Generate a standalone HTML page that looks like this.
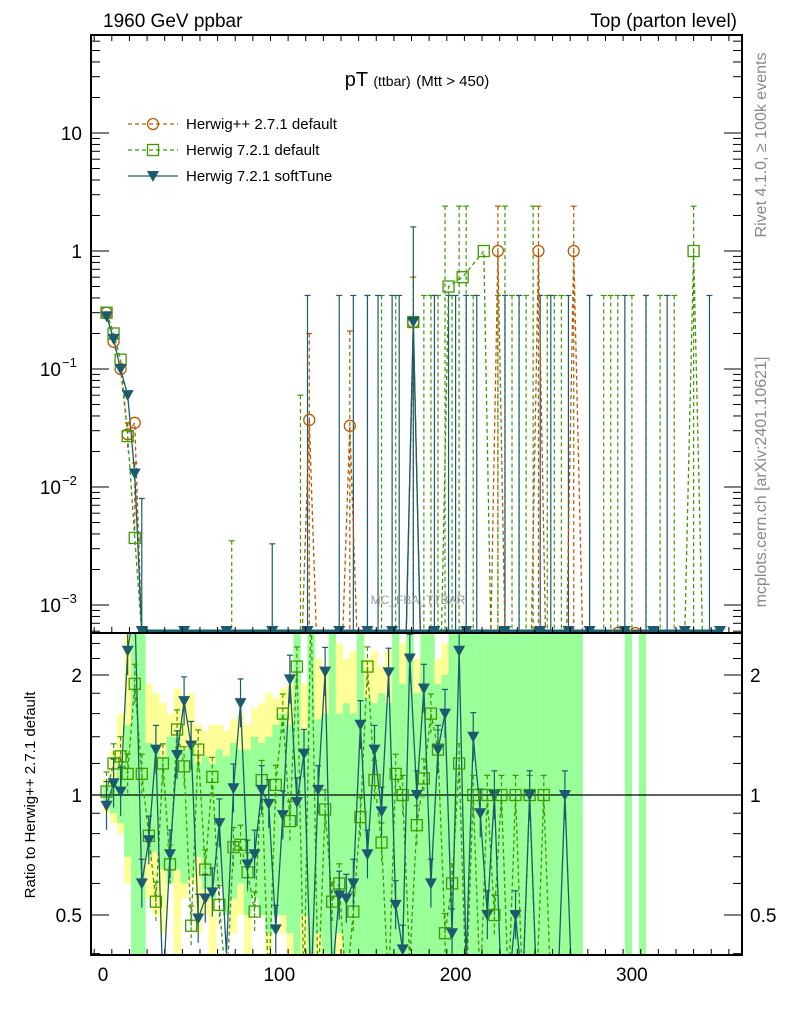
<!DOCTYPE html>
<html><head><meta charset="utf-8"><style>
body{margin:0;background:#fff}
svg{display:block;font-family:"Liberation Sans",sans-serif}
</style></head><body>
<svg id="c" width="786" height="1024" viewBox="0 0 786 1024" xmlns="http://www.w3.org/2000/svg">
<defs>
<clipPath id="cm"><rect x="91" y="35" width="651" height="598"/></clipPath>
<clipPath id="cr"><rect x="91" y="633" width="651" height="322"/></clipPath>
</defs>
<g id="ratioBands" clip-path="url(#cr)"></g>
<g id="mainG" clip-path="url(#cm)"></g>
<g id="ratioG" clip-path="url(#cr)"></g>
<g id="axes"></g>
<text x="103" y="27" font-size="19">1960 GeV ppbar</text>
<text x="737" y="27" font-size="19" text-anchor="end">Top (parton level)</text>
<text x="417" y="86" font-size="20" text-anchor="middle">pT <tspan font-size="14">(ttbar)</tspan> <tspan font-size="15">(Mtt &gt; 450)</tspan></text>
<text x="418" y="604" font-size="12" fill="#999" text-anchor="middle">MC_FBA_TTBAR</text>
<text transform="translate(766,145) rotate(-90)" font-size="16" fill="#888" text-anchor="middle">Rivet 4.1.0, ≥ 100k events</text>
<text transform="translate(766,482) rotate(-90)" font-size="16" fill="#888" text-anchor="middle">mcplots.cern.ch [arXiv:2401.10621]</text>
<text transform="translate(35,795) rotate(-90)" font-size="15" text-anchor="middle">Ratio to Herwig++ 2.7.1 default</text>
<g>
<g>
<line x1="128" y1="124" x2="178" y2="124" stroke="#b85a00" stroke-dasharray="4,3" stroke-width="1.3"/>
<circle cx="153" cy="124" r="5.5" fill="none" stroke="#b85a00" stroke-width="1.3"/>
<text x="186" y="129" font-size="15">Herwig++ 2.7.1 default</text></g>
<g>
<line x1="128" y1="150" x2="178" y2="150" stroke="#3c9a00" stroke-dasharray="4,3" stroke-width="1.3"/>
<rect x="147.5" y="144.5" width="11" height="11" fill="none" stroke="#3c9a00" stroke-width="1.3"/>
<text x="186" y="155" font-size="15">Herwig 7.2.1 default</text></g>
<g>
<line x1="128" y1="176" x2="178" y2="176" stroke="#1c5a70" stroke-width="1.3"/>
<path d="M147,171 L159,171 L153,182 Z" fill="#1c5a70"/>
<text x="186" y="181" font-size="15">Herwig 7.2.1 softTune</text></g>
</g>
</svg>
<script>
// ---- main panel data ----
const oX=[2,6,10,14,18,22,113,117,121,136,140,144,172,176,180,220,224,228,243,247,251,263,267,272,302];
const oY=[0.3,0.17,0.1,0.028,0.035,0,0,0.037,0,0,0.033,0,0,0.25,0,0,1,0,0,1,0,0,1,0,0];
const oErrX=[14,18,117,140,176,224,247,267];
const oErrHi=[0.035,0.016,0.2,0.21,0.6,2.4,2.4,2.4];
const oErrLo=[0.02,0.004,0,0,0,0,0,0];
const gX=[2,6,10,14,18,22,172,176,180,192,196,204,216,220,330,335,340];
const gY=[0.3,0.2,0.12,0.027,0.0037,0,0,0.25,0,0,0.5,0.6,1,0,0,1,0];
const gErrX=[73,112,150,158,166,182,186,190,194,198,202,206,210,224,228,232,236,240,244,252,256,260,276,284,288,292,300,308,316,324,335];
const gErrHi=[0.0035,0.06,0.42,0.42,0.42,0.42,0.42,0.42,2.4,0.42,2.4,2.4,0.42,0.42,2.4,0.42,0.42,0.42,2.4,0.42,0.42,0.42,0.42,0.42,0.42,0.42,0.42,0.42,0.42,0.42,2.4];
const bX=[2,6,10,14,18,22,172,176,180,350];
const bY=[0.28,0.18,0.1,0.06,0.013,0,0,0.25,0,0];
const bErrX=[22,96,116,134,142,150,156,164,168,176,188,196,200,206,212,228,236,248,254,264,276,296,308,320,344];
const bErrHi=[0.008,0.0033,0.42,0.42,0.42,0.42,0.42,0.42,0.42,1.6,0.42,0.42,0.42,0.42,0.42,0.42,0.42,0.42,0.42,0.42,0.42,0.42,0.42,0.42,0.42];
const bZeroX=[22,46,70,96,116,134,150,164,188,206,228,248,264,276,296,312,330,350];
// ---- ratio panel data (bins centred 2,6,...,270) ----
const rBins=[];for(let i=0;i<68;i++)rBins.push(2+4*i);
const gR=[1.02,1.2,1.25,1.13,1.9,1.13,0.79,0.54,1.2,0.67,1.46,1.18,0.47,1.3,0.65,1.11,0.53,0.3,0.74,0.75,0.64,0.51,1.09,0.3,1.06,1.6,0.86,2.1,0.3,3,0.3,0.92,0.54,0.6,0.3,0.51,0.88,2.1,1.09,0.76,0.3,1.13,1.0,0.38,0.84,1.1,1.6,1.3,0.45,0.6,1.2,0.3,1.0,0.3,1.0,0.5,1.0,0.3,1.0,0.3,1.0,0.3,1.0,0.3,0.3,0.3,0.3,0.3];
const bR=[0.94,1.07,1.02,2.3,3,0.6,0.77,1.3,0.3,0.71,1.26,1.72,1.33,0.49,0.55,0.57,0.85,0.4,1.04,1.7,0.67,0.71,1.03,0.95,0.46,0.89,1.95,0.96,1.27,0.3,1.03,2.04,0.35,0.56,0.55,0.6,1.5,0.71,1.3,0.91,2.03,0.53,0.41,2.2,1.0,1.85,0.6,1.3,1.6,0.45,2.3,0.38,1.4,0.9,0.5,1.0,0.3,0.3,0.5,0.3,1.0,0.3,0.3,0.3,0.3,1.0,0.3,0.3];
const yHi=[1.1,1.3,1.6,3,3,3,1.9,1.8,1.7,1.6,1.85,1.7,1.8,1.5,1.45,1.5,1.5,1.45,1.55,1.6,1.5,1.65,1.7,1.8,1.75,1.85,1.9,2,1.9,2.3,2.2,2.1,3,2.4,2.2,2.3,3,2.2,2.3,2.1,2.3,2.2,2.4,3,2.2,2.3,3,2.2,2.4,3,3,2.4,3,2.3,2.4,3,2.2,3,2.3,3,3,3,3,3,3,3,3,3];
const yLo=[0.9,0.85,0.8,0.6,0.5,0.6,0.55,0.5,0.45,0.6,0.3,0.55,0.6,0.45,0.5,0.3,0.6,0.55,0.45,0.5,0.3,0.6,0.5,0.3,0.55,0.45,0.3,0.5,0.3,0.4,0.3,0.5,0.3,0.3,0.45,0.3,0.3,0.4,0.3,0.3,0.3,0.3,0.3,0.3,0.3,0.3,0.3,0.3,0.3,0.3,0.3,0.3,0.3,0.3,0.3,0.3,0.3,0.3,0.3,0.3,0.3,0.3,0.3,0.3,0.3,0.3,0.3,0.3];
const gHi=[1.05,1.1,1.2,1.5,3,3,1.35,1.3,1.25,1.4,1.4,1.3,1.35,1.2,1.25,1.2,1.3,1.25,1.35,1.3,1.3,1.4,1.35,1.4,1.5,1.6,1.5,3,1.45,3,1.55,1.6,3,1.6,1.7,1.6,3,1.75,1.7,1.8,1.7,3,1.9,3,1.8,3,3,1.9,2,3,3,3,3,3,3,3,3,3,3,3,3,3,3,3,3,3,3,3];
const gLo=[0.95,0.9,0.85,0.7,0.3,0.3,0.7,0.72,0.65,0.6,0.65,0.6,0.62,0.7,0.58,0.55,0.6,0.5,0.55,0.6,0.5,0.55,0.5,0.45,0.5,0.5,0.45,0.3,0.5,0.3,0.45,0.4,0.3,0.45,0.4,0.3,0.3,0.4,0.3,0.3,0.3,0.3,0.3,0.3,0.3,0.3,0.3,0.3,0.3,0.3,0.3,0.3,0.3,0.3,0.3,0.3,0.3,0.3,0.3,0.3,0.3,0.3,0.3,0.3,0.3,0.3,0.3,0.3];
const extraBandX=[298,306];
const xTicks=[0,100,200,300];
const mainTickVals=[10,1,0.1,0.01,0.001];
const mainTickLabels=["10","1","10","10","10"];
const mainTickExp=["","","−1","−2","−3"];
const ratioTicks=[2,1,0.5];

const NS="http://www.w3.org/2000/svg";
const X0=91,X1=742,MT=35,MB=633,RB=955;
const xs=v=>103+v*1.763;
const ym=v=>v<=0?MB:Math.min(MB,251-118*Math.log10(v));
const yr=v=>795-120*Math.log2(v);
function mk(p,tag,a){const e=document.createElementNS(NS,tag);for(const k in a)e.setAttribute(k,a[k]);p.appendChild(e);return e;}
const OR="#b85a00",GR="#3c9a00",BL="#1c5a70";
const M=document.getElementById('mainG'),R=document.getElementById('ratioG'),RBd=document.getElementById('ratioBands'),A=document.getElementById('axes');

function circ(p,x,y,c,n){const e=mk(p,'circle',{cx:x,cy:y,r:5.5,fill:'none',stroke:c,'stroke-width':1.3});

}
function sq(p,x,y,c,n){const e=mk(p,'rect',{x:x-5.5,y:y-5.5,width:11,height:11,fill:'none',stroke:c,'stroke-width':1.3});

}
function tri(p,x,y,c,n){const e=mk(p,'path',{d:`M${x-6},${y-5}L${x+6},${y-5}L${x},${y+6}Z`,fill:c});

}
function vline(p,x,y1,y2,c,dash,n){const e=mk(p,'line',{x1:x,x2:x,y1:y1,y2:y2,stroke:c,'stroke-width':1.2});if(dash)e.setAttribute('stroke-dasharray','4,3');
mk(p,'line',{x1:x-3,x2:x+3,y1:y1,y2:y1,stroke:c,'stroke-width':1.2});

}
function poly(p,xsA,ysA,fy,c,dash,n){const pts=xsA.map((v,i)=>xs(v)+','+fy(ysA[i])).join(' ');
const e=mk(p,'polyline',{points:pts,fill:'none',stroke:c,'stroke-width':1.3});if(dash)e.setAttribute('stroke-dasharray','4,3');

}

// ratio bands
const bw=4*1.763;
rBins.forEach((b,i)=>{const x=xs(b)-bw/2;
const y1=mk(RBd,'rect',{x:x,y:yr(yHi[i]),width:bw+0.3,height:yr(yLo[i])-yr(yHi[i]),fill:'#ffff99'});


const g1=mk(RBd,'rect',{x:x,y:yr(gHi[i]),width:bw+0.3,height:yr(gLo[i])-yr(gHi[i]),fill:'#99ff99'});

});
extraBandX.forEach(b=>{const e=mk(RBd,'rect',{x:xs(b)-bw/2,y:MB,width:bw,height:RB-MB,fill:'#99ff99'});

});

// main panel
oErrX.forEach((x,i)=>vline(M,xs(x),ym(oErrHi[i]),oErrLo[i]?ym(oErrLo[i]):MB,OR,true,'herwigpp-error-bar'));
gErrX.forEach((x,i)=>vline(M,xs(x),ym(gErrHi[i]),MB,GR,true,'herwig7-default-error-bar'));
bErrX.forEach((x,i)=>vline(M,xs(x),ym(bErrHi[i]),MB,BL,false,'herwig7-softtune-error-bar'));
poly(M,oX,oY,ym,OR,true,'herwigpp-line');
poly(M,gX,gY,ym,GR,true,'herwig7-default-line');
poly(M,bX,bY,ym,BL,false,'herwig7-softtune-line');
{const e=mk(M,'line',{x1:xs(20),x2:xs(350),y1:MB-1.5,y2:MB-1.5,stroke:BL,'stroke-width':4});

}
oX.forEach((x,i)=>{if(oY[i]>0)circ(M,xs(x),ym(oY[i]),OR,'herwigpp-point');});
[292,302].forEach(x=>circ(M,xs(x),MB,OR,'herwigpp-point'));
gX.forEach((x,i)=>{if(gY[i]>0)sq(M,xs(x),ym(gY[i]),GR,'herwig7-default-point');});
bX.forEach((x,i)=>{if(bY[i]>0)tri(M,xs(x),ym(bY[i]),BL,'herwig7-softtune-point');});
bZeroX.forEach(x=>tri(M,xs(x),MB-2,BL,'herwig7-softtune-point'));

// ratio panel
const cl=v=>Math.max(600,Math.min(990,yr(v)));
{const e=mk(R,'line',{x1:X0,x2:X1,y1:yr(1),y2:yr(1),stroke:'#000','stroke-width':1.2});

}
poly(R,rBins,gR,cl,GR,true,'herwig7-default-ratio-line');
poly(R,rBins,bR,cl,BL,false,'herwig7-softtune-ratio-line');
rBins.forEach((b,i)=>{
 if(gR[i]>0.4&&gR[i]<2.5){vline(R,xs(b),yr(gR[i]*1.12),yr(gR[i]/1.12),GR,true,'herwig7-default-ratio-error');sq(R,xs(b),yr(gR[i]),GR,'herwig7-default-ratio-point');}
 if(bR[i]>0.4&&bR[i]<2.5){vline(R,xs(b),yr(bR[i]*1.15),yr(bR[i]/1.15),BL,false,'herwig7-softtune-ratio-error');tri(R,xs(b),yr(bR[i]),BL,'herwig7-softtune-ratio-point');}
});

// axes
function frame(y1,y2,n){const e=mk(A,'rect',{x:X0,y:y1,width:X1-X0,height:y2-y1,fill:'none',stroke:'#000','stroke-width':2});

}
frame(MT,MB,'main-frame');frame(MB,RB,'ratio-frame');
for(let v=-5;v<=360;v+=10){const big=v%100==0;const L=big?12:(v%50==0?8:6);const x=xs(v);if(x<X0||x>X1)continue;
 [MT,MB,RB].forEach(yy=>{const dir=yy==MT?1:-1;mk(A,'line',{x1:x,x2:x,y1:yy,y2:yy+dir*L,stroke:'#000','stroke-width':1});});}
xTicks.forEach(v=>{const t=mk(A,'text',{x:xs(v),y:981,'font-size':19,'text-anchor':'middle'});t.textContent=v;

});
for(let d=-4;d<=2;d++)for(let m=1;m<10;m++){const v=m*Math.pow(10,d);const y=ym(v);if(y<=MT||y>=MB)continue;const L=m==1?18:9;
 mk(A,'line',{x1:X0,x2:X0+L,y1:y,y2:y,stroke:'#000','stroke-width':1});mk(A,'line',{x1:X1,x2:X1-L,y1:y,y2:y,stroke:'#000','stroke-width':1});}
mainTickVals.forEach((v,i)=>{
 if(mainTickExp[i]){
  const t=mk(A,'text',{x:61,y:ym(v)+7,'font-size':19,'text-anchor':'end'});t.textContent=mainTickLabels[i];
  
  
  const s=mk(A,'text',{x:62,y:ym(v)-2,'font-size':13,'text-anchor':'start'});s.textContent=mainTickExp[i];
  
  
 } else {
  const t=mk(A,'text',{x:82,y:ym(v)+7,'font-size':19,'text-anchor':'end'});t.textContent=mainTickLabels[i];
  
  
 }});
[0.4,0.5,0.6,0.7,0.8,0.9,1,1.2,1.4,1.6,1.8,2,2.2,2.4].forEach(v=>{const y=yr(v);if(y<=MB||y>=RB)return;const L=[0.5,1,2].includes(v)?18:9;
 mk(A,'line',{x1:X0,x2:X0+L,y1:y,y2:y,stroke:'#000','stroke-width':1});mk(A,'line',{x1:X1,x2:X1-L,y1:y,y2:y,stroke:'#000','stroke-width':1});});
ratioTicks.forEach(v=>{[[82,'end'],[750,'start']].forEach(([x,an])=>{const t=mk(A,'text',{x:x,y:yr(v)+7,'font-size':19,'text-anchor':an});t.textContent=v;

});});
</script>
</body></html>
